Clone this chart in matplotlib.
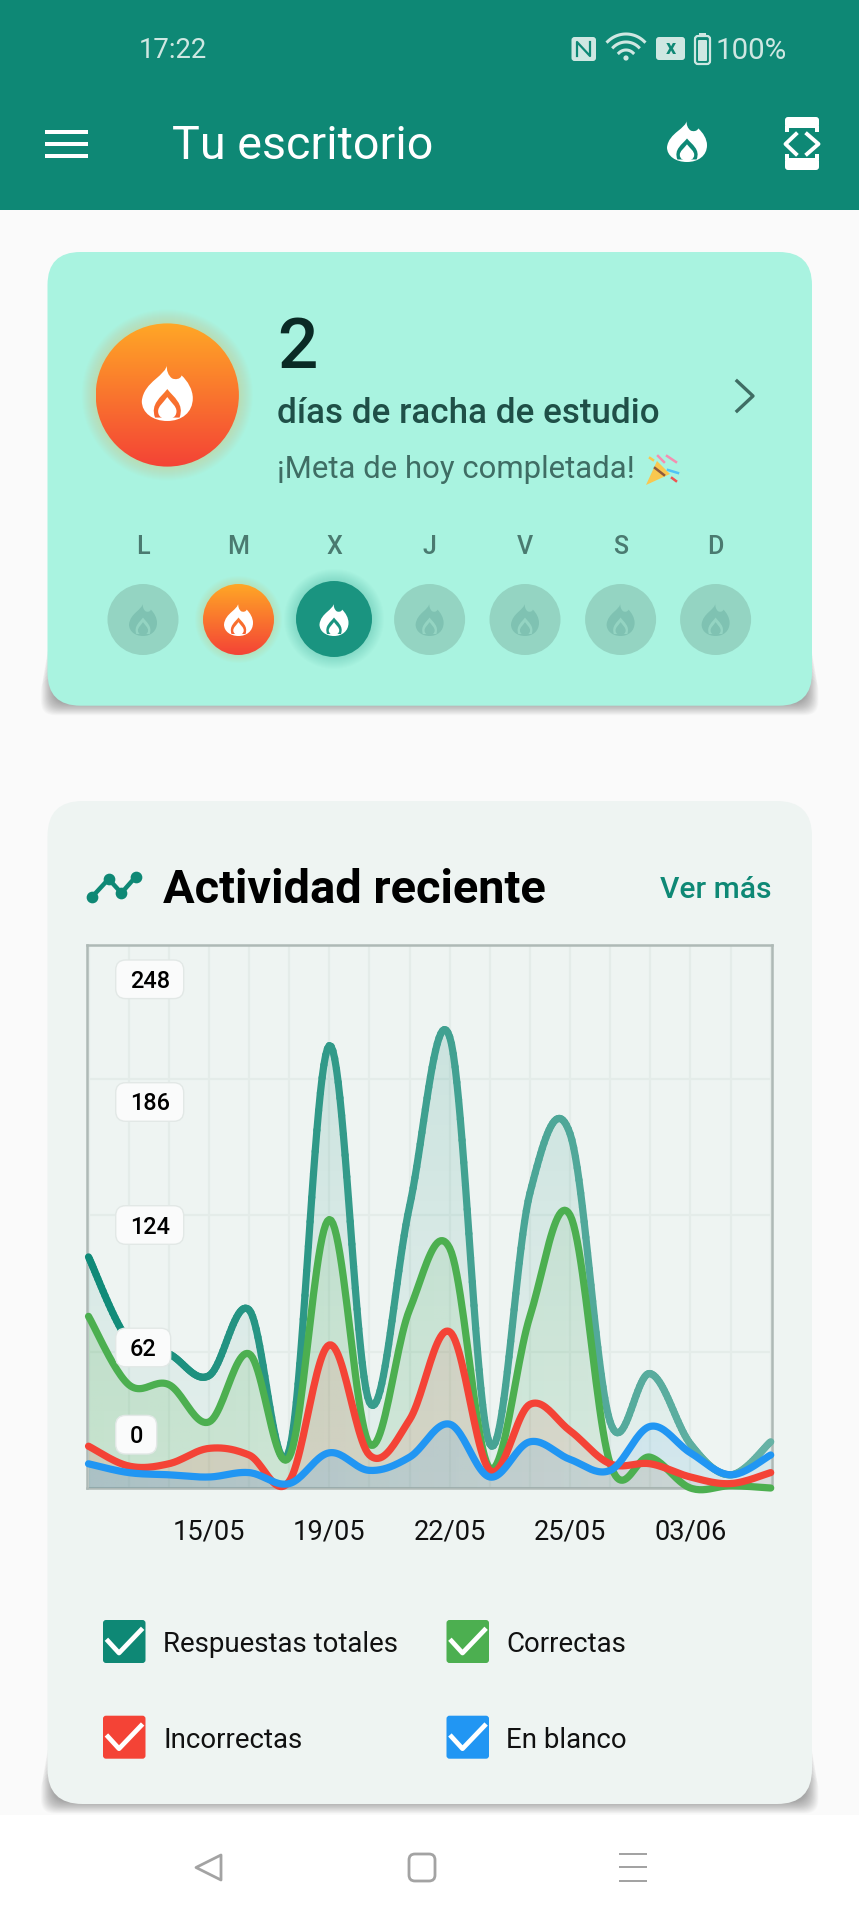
import numpy as np
import matplotlib
matplotlib.use('Agg')
import matplotlib.pyplot as plt
from matplotlib.patches import Circle, FancyBboxPatch, PathPatch, Polygon, Rectangle
from matplotlib.path import Path
from matplotlib.collections import LineCollection
from matplotlib.colors import LinearSegmentedColormap, to_rgb

plt.rcParams['font.family'] = ['Roboto', 'DejaVu Sans']

# chart data
dias = list(range(18))
totales = [105, 67, 61, 51, 81, 17, 201, 39, 128, 205, 20, 134, 161, 30, 52, 20, 6, 21]
correctas = [78, 47, 47, 30, 61, 14, 122, 20, 81, 109, 9, 78, 124, 11, 14, 0, 1, 0]
incorrectas = [19, 10, 11, 18, 15, 3, 65, 15, 31, 71, 8, 38, 26, 11, 11, 5, 2, 7]
en_blanco = [11, 7, 6, 5, 7, 2, 16, 8, 14, 29, 5, 21, 13, 8, 28, 16, 6, 15]
fechas = {3: '15/05', 6: '19/05', 9: '22/05', 12: '25/05', 15: '03/06'}
y_ticks = [0, 62, 124, 186, 248]
y_label_px = [1434.7, 1347.5, 1225, 1102, 979.3]
y_label_w = [41, 55, 68, 68, 68]

dias_semana = ['L', 'M', 'X', 'J', 'V', 'S', 'D']
leyenda = ['Respuestas totales', 'Correctas', 'Incorrectas', 'En blanco']

TEAL = '#0E8875'
GREEN = '#4CAF50'
RED = '#F44336'
BLUE = '#2196F3'
MINT = '#A9F3E0'
PALE = '#CFE7E2'


def fs(px):
    # font size from pixel em size at dpi 100
    return px * 0.72


def smooth(x, y, smoothness=0.35, n=24):
    # same kind of curve the app draws: cubic pieces with tangents from the neighbours
    x = np.asarray(x, float)
    y = np.asarray(y, float)
    pts = np.column_stack([x, y])
    out = [pts[:1]]
    t = np.linspace(0, 1, n)[1:, None]
    for i in range(1, len(pts)):
        prev2 = pts[max(i - 2, 0)]
        prev = pts[i - 1]
        cur = pts[i]
        nxt = pts[min(i + 1, len(pts) - 1)]
        c1 = prev + (cur - prev2) / 2 * smoothness
        c2 = cur - (nxt - prev) / 2 * smoothness
        out.append((1 - t) ** 3 * prev + 3 * (1 - t) ** 2 * t * c1 + 3 * (1 - t) * t ** 2 * c2 + t ** 3 * cur)
    return np.vstack(out)


def rrect(ax, x0, y0, x1, y1, r, **kw):
    p = FancyBboxPatch((x0, y0), x1 - x0, y1 - y0, boxstyle='round,pad=0,rounding_size=%g' % r, **kw)
    ax.add_patch(p)
    return p


def shadow(ax, x0, y1, x1, r, blur=18, a=0.02):
    # soft shadow: wider layers start lower so it tapers off up the sides
    for k in range(blur, 0, -1):
        grow = k * 0.7 - 6
        rrect(ax, x0 - grow, y1 - 100 + k * 4, x1 + grow, y1 + 3 + grow, min(r, 14),
              fc='black', ec='none', alpha=a)


def flame(ax, cx, top, w, h, color, zorder=5):
    X = lambda v: cx + (v - 0.5) * w
    Y = lambda v: top + v * h
    pts = [(0.49, 0), (0.50, 0.20), (0.04, 0.30), (0.0, 0.65), (0.0, 0.86), (0.22, 1.0), (0.5, 1.0),
           (0.78, 1.0), (1.0, 0.85), (1.0, 0.60), (1.0, 0.45), (0.90, 0.30), (0.78, 0.20),
           (0.76, 0.27), (0.65, 0.28), (0.59, 0.25), (0.52, 0.20), (0.48, 0.12), (0.49, 0.0),
           # hole
           (0.5, 0.44), (0.62, 0.58), (0.84, 0.70), (0.74, 0.94), (0.5, 0.94), (0.5, 0.94), (0.26, 0.94),
           (0.16, 0.70), (0.38, 0.58), (0.5, 0.44)]
    codes = [Path.MOVETO] + [Path.CURVE4] * 18 + [Path.MOVETO] + [Path.CURVE4] * 9
    verts = [(X(a), Y(b)) for a, b in pts]
    ax.add_patch(PathPatch(Path(verts, codes), fc=color, ec='none', zorder=zorder))
    drop = [(0.5, 0.58), (0.58, 0.68), (0.68, 0.74), (0.68, 0.83), (0.68, 0.93), (0.58, 0.97), (0.5, 0.97),
            (0.42, 0.97), (0.32, 0.93), (0.32, 0.83), (0.32, 0.74), (0.42, 0.68), (0.5, 0.58)]
    codes = [Path.MOVETO] + [Path.CURVE4] * 12
    ax.add_patch(PathPatch(Path([(X(a), Y(b)) for a, b in drop], codes), fc=color, ec='none', zorder=zorder))


def grad_circle(ax, cx, cy, r, zorder=3):
    top = np.array(to_rgb('#FFA726'))
    bot = np.array(to_rgb('#F44336'))
    s = np.linspace(0, 1, 128)[:, None, None]
    img = (1 - s) * top[None, None, :] + s * bot[None, None, :]
    im = ax.imshow(img, extent=(cx - r, cx + r, cy + r, cy - r), aspect='auto', zorder=zorder)
    im.set_clip_path(Circle((cx, cy), r, transform=ax.transData))


fig = plt.figure(figsize=(8.59, 19.2), dpi=100)
fig.patch.set_facecolor('#FAFAFA')


def pixel_axes(z):
    a = fig.add_axes([0, 0, 1, 1], zorder=z)
    a.patch.set_alpha(0)
    a.axis('off')
    return a


bg = pixel_axes(0)

# header
bg.add_patch(Rectangle((0, 0), 859, 210, fc=TEAL, ec='none'))
bg.text(139, 51, '17:22', color=PALE, fontsize=fs(27.5), va='center', ha='left')
bg.text(716, 51, '100%', color=PALE, fontsize=fs(29.5), va='center', ha='left')
bg.text(172, 159, 'Tu escritorio', color='white', fontsize=fs(46.6), va='baseline', ha='left')
for yy in (131.5, 143.5, 155.5):
    bg.add_patch(Rectangle((45, yy - 2), 43, 4, fc='white', ec='none'))
flame(bg, 687, 120, 40, 42, 'white')

# status icons
rrect(bg, 571.5, 37, 596, 61, 3, fc=PALE, ec='none')
bg.plot([577, 577, 590, 590], [56, 42, 56, 42], color=TEAL, lw=1.6)
th = np.linspace(np.radians(-135), np.radians(-45), 30)
for rad in (10, 18, 26):
    bg.plot(626 + rad * np.cos(th), 60 + rad * np.sin(th), color=PALE, lw=2.2)
bg.add_patch(Circle((626, 58), 2.6, fc=PALE, ec='none'))
rrect(bg, 656, 37, 685, 60, 3, fc=PALE, ec='none')
bg.text(670.5, 48.5, 'x', color=TEAL, fontsize=fs(20), fontweight='bold', ha='center', va='center')
rrect(bg, 695, 36, 710, 64, 3, fc='none', ec=PALE, lw=1.6)
rrect(bg, 698, 40, 707, 61, 1, fc=PALE, ec='none')
bg.add_patch(Rectangle((699, 33), 7, 2, fc=PALE, ec='none'))

# developer icon
for y0, y1 in ((117, 128), (158, 170)):
    rrect(bg, 785, y0, 819, y1, 3, fc='white', ec='none')
bg.add_patch(Rectangle((785, 126), 4, 6, fc='white', ec='none'))
bg.add_patch(Rectangle((815, 126), 4, 6, fc='white', ec='none'))
bg.add_patch(Rectangle((785, 154), 4, 6, fc='white', ec='none'))
bg.add_patch(Rectangle((815, 154), 4, 6, fc='white', ec='none'))
bg.plot([796, 785.5, 796], [134, 144, 154], color='white', lw=2.8)
bg.plot([807, 818.5, 807], [134, 144, 154], color='white', lw=2.8)

# streak card
shadow(bg, 47.5, 705.7, 812, 33)
rrect(bg, 47.5, 252, 812, 705.7, 33, fc=MINT, ec='none', zorder=2)
for k in range(14, 0, -1):
    bg.add_patch(Circle((167.3, 395), 71.6 + k, fc='#FFA726', ec='none', alpha=0.016, zorder=2))
grad_circle(bg, 167.3, 395, 71.6)
flame(bg, 167.3, 364, 51, 57, 'white')
bg.text(277, 368, '2', color='#0A2A25', fontsize=fs(71), fontweight='medium', va='baseline')
bg.text(277, 423, 'días de racha de estudio', color='#1F4F47', fontsize=fs(35), fontweight='medium', va='baseline')
bg.text(277, 478, '¡Meta de hoy completada!', color='#3F6D64', fontsize=fs(31.2), va='baseline')
bg.plot([737, 753, 737], [381, 396, 411], color='#3F6D64', lw=2.4)

# party popper
bg.add_patch(Polygon([(646, 485), (657, 461), (670, 474)], fc='#F9C74F', ec='none', zorder=3))
for (xa, ya, xb, yb, col) in [(655, 468, 664, 475, '#8D5A3C'), (658, 456, 664, 462, '#F48FB1'),
                              (667, 456, 676, 462, '#F48FB1'), (668, 470, 678, 473, '#4FC3F7'),
                              (650, 458, 653, 460, '#F9C74F'), (672, 478, 676, 481, '#EF5350')]:
    bg.plot([xa, xb], [ya, yb], color=col, lw=1.8, zorder=4)

# week row
semana_x = [143, 238.5, 334, 429.6, 525, 620.6, 715.6]
for n, (d, cx) in enumerate(zip(dias_semana, semana_x)):
    bg.text(cx, 547.5, d, color='#4A7A70', fontsize=fs(25), fontweight='medium', ha='center', va='center')
    if n == 1:
        for k in range(8, 0, -1):
            bg.add_patch(Circle((cx, 619.5), 35.5 + k, fc='#FFA726', ec='none', alpha=0.018, zorder=2))
        grad_circle(bg, cx, 619.5, 35.5)
        flame(bg, cx, 603, 29, 33, 'white')
    elif n == 2:
        for k in range(12, 0, -1):
            bg.add_patch(Circle((cx, 619), 38 + k, fc=TEAL, ec='none', alpha=0.016, zorder=2))
        bg.add_patch(Circle((cx, 619), 38, fc='#1A9480', ec='none', zorder=3))
        flame(bg, cx, 603, 29, 33, 'white')
    else:
        bg.add_patch(Circle((cx, 619.5), 35.5, fc='#94D4C2', ec='none', zorder=3))
        flame(bg, cx, 603, 28, 33, '#7FC2B2')

# activity card
shadow(bg, 47.5, 1804, 812, 35)
rrect(bg, 47.5, 801, 812, 1804, 35, fc='#EEF4F2', ec='none', zorder=2)
icon_x = [92, 108.6, 121.4, 135.5]
icon_y = [897, 879, 893, 877]
bg.plot(icon_x, icon_y, color=TEAL, lw=3.2, zorder=3)
bg.scatter(icon_x, icon_y, s=55, color=TEAL, zorder=3)
bg.text(163, 903, 'Actividad reciente', color='black', fontsize=fs(47), fontweight='bold', va='baseline', zorder=3)
bg.text(772, 889.5, 'Ver más', color=TEAL, fontsize=fs(30), fontweight='medium', ha='right', va='center', zorder=3)

# legend
filas = [(103, 1620), (446.5, 1620), (103, 1715.7), (446.5, 1715.7)]
for (lx, ly), nombre, col in zip(filas, leyenda, [TEAL, GREEN, RED, BLUE]):
    rrect(bg, lx, ly, lx + 42.5, ly + 43, 3, fc=col, ec='none', zorder=3)
    bg.plot([lx + 5, lx + 16, lx + 38], [ly + 21, ly + 33, ly + 10], color='white', lw=3.4, zorder=4)
    bg.text(lx + 60, ly + 24.5, nombre, color='#111111', fontsize=fs(27.6), va='center', zorder=3)

# nav bar
bg.add_patch(Rectangle((0, 1815), 859, 105, fc='white', ec='none', zorder=3))
gris = '#A3A3A3'
bg.add_patch(Polygon([(221, 1855), (196, 1867.5), (221, 1880)], closed=True, fc='none', ec=gris, lw=2, joinstyle='round', zorder=4))
rrect(bg, 409, 1854, 435, 1881, 6, fc='none', ec=gris, lw=2, zorder=4)
for yy in (1854, 1867, 1881):
    bg.add_patch(Rectangle((619, yy - 1.2), 28, 2.4, fc=gris, ec='none', zorder=4))
bg.set_xlim(0, 859)
bg.set_ylim(1920, 0)

# the chart itself
L, R, T, B = 86.5, 771.5, 945.3, 1488
ax = fig.add_axes([L / 859, 1 - B / 1920, (R - L) / 859, (B - T) / 1920], zorder=1)
ax.patch.set_alpha(0)
ax.set_axisbelow(True)

ax.set_xticks(dias)
ax.set_xticklabels([fechas.get(d, '') for d in dias], fontsize=fs(27.2), color='#111111')
ax.set_yticks(y_ticks)
ax.set_yticklabels([])
ax.tick_params(length=0)
ax.tick_params(axis='x', pad=22)
ax.grid(True, color='#E4ECE9', lw=1.6)
for s in ax.spines.values():
    s.set_color('#AEB9B6')
    s.set_linewidth(1.8)

series = [totales, correctas, incorrectas, en_blanco]
colores = [TEAL, GREEN, RED, BLUE]
# alpha of the fills: teal fades with height, the others with x
h = np.linspace(0, 1, 64)[:, None]
w = np.linspace(0, 1, 64)[None, :]
alphas = [np.tile(0.04 + 0.14 * h, (1, 64)),
          np.tile(0.19 - 0.12 * w, (64, 1)),
          np.tile(0.14 - 0.06 * w, (64, 1)),
          np.tile(0.20 - 0.13 * w, (64, 1))]
curvas = [smooth(dias, s) for s in series]

for c, col, al, z in zip(curvas, colores, alphas, (2, 3, 4, 5)):
    img = np.zeros((64, 64, 4))
    img[..., :3] = to_rgb(col)
    img[..., 3] = al
    im = ax.imshow(img, extent=(0, 17, 0, 248), origin='lower', aspect='auto', zorder=z, interpolation='bilinear')
    poly = np.vstack([c, [[17, 0], [0, 0]]])
    im.set_clip_path(Polygon(poly, closed=True, transform=ax.transData))

# total line fades out to the right
pts = curvas[0]
segs = np.stack([pts[:-1], pts[1:]], axis=1)
cmap = LinearSegmentedColormap.from_list('t', ['#0F8A78', '#3FA090', '#66B2A5'])
lc = LineCollection(segs, cmap=cmap, linewidths=5.2, capstyle='round', zorder=6, clip_on=False)
lc.set_array(segs[:, 0, 0])
ax.add_collection(lc)
for c, col, z in zip(curvas[1:], colores[1:], (7, 8, 9)):
    ax.plot(c[:, 0], c[:, 1], color=col, lw=5.2, solid_capstyle='round', zorder=z, clip_on=False)

ax.set_xlim(-0.05, 17.02)
ax.set_ylim(0, 246.6)

# value badges sit over the lines
top = pixel_axes(2)
top.set_xlim(0, 859)
top.set_ylim(1920, 0)
for v, yy, bw in zip(y_ticks, y_label_px, y_label_w):
    rrect(top, 115.7, yy - 19.3, 115.7 + bw, yy + 19.3, 10, fc='#FAFBFB', ec='#E2E8E6', lw=1)
    top.text(115.7 + bw / 2, yy + 2, str(v), color='black', fontsize=fs(23.5), fontweight='medium', ha='center', va='center')

fig.savefig('out.png', dpi=100, facecolor=fig.get_facecolor())
